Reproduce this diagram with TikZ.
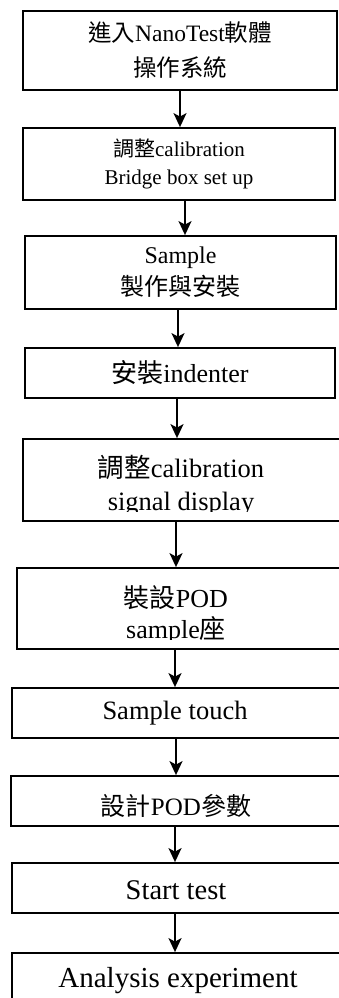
\documentclass[tikz,border=0pt]{standalone}
\usepackage{fontspec}
\setmainfont{Liberation Serif}
\newfontfamily\cjk{Noto Sans CJK TC}
\usetikzlibrary{arrows.meta}

\tikzset{
  stepbox/.style={draw, line width=1.8pt, inner sep=0pt, align=center},
  steptext/.style={inner sep=0pt, align=center},
  flow/.style={line width=1.8pt, -{Stealth[length=14pt,width=13pt,inset=3.5pt]}},
}
\newcommand{\fsz}[2]{\fontsize{#1}{#2}\selectfont}

\begin{document}
\begin{tikzpicture}[x=1pt, y=-1pt]
  \useasboundingbox (0,0) rectangle (339,998);
  \clip (0,0) rectangle (339,998);
  % upper boxes, closed on both sides
  \node[stepbox, minimum width=314pt, minimum height=79pt, font=\fsz{23.5}{35}] (enter) at (180,50.5)
    {{\cjk 進入}NanoTest{\cjk 軟體}\\{\cjk 操作系統}};
  \node[stepbox, minimum width=312pt, minimum height=72pt, font=\fsz{21}{28}] (bridge) at (179,164)
    {{\cjk 調整}calibration\\Bridge box set up};
  \node[stepbox, minimum width=311pt, minimum height=73pt, font=\fsz{24}{32}] (sample) at (180.5,272.5)
    {Sample\\{\cjk 製作與安裝}};
  \node[stepbox, minimum width=310pt, minimum height=50pt, font=\fsz{26}{30}] (indenter) at (180,373)
    {{\cjk 安裝}indenter};
  % lower boxes run off the right edge
  \node[stepbox, minimum width=340pt, minimum height=82pt] (signal) at (193,480) {};
  \begin{scope}
    \clip (signal.north west) rectangle (339,511);
    \node[steptext, font=\fsz{26.5}{33}] (signal-t) at (181,486) {{\cjk 調整}calibration\\signal display};
  \end{scope}
  \node[stepbox, minimum width=346pt, minimum height=81pt] (pod) at (190,608.5) {};
  \begin{scope}
    \clip (pod.north west) rectangle (339,639);
    \node[steptext, font=\fsz{26}{31}] (pod-t) at (176,615) {{\cjk 裝設}POD\\sample{\cjk 座}};
  \end{scope}
  \node[stepbox, minimum width=348pt, minimum height=50pt] (touch) at (186,713) {};
  \node[steptext, font=\fsz{26.5}{30}] (touch-t) at (175,713) {Sample touch};
  \node[stepbox, minimum width=349pt, minimum height=50pt] (param) at (185.5,801) {};
  \node[steptext, font=\fsz{25}{30}] (param-t) at (176,806) {{\cjk 設計}POD{\cjk 參數}};
  \node[stepbox, minimum width=348pt, minimum height=50pt] (start) at (186,888) {};
  \node[steptext, font=\fsz{28.5}{30}] (start-t) at (176,890) {Start test};
  \node[stepbox, minimum width=348pt, minimum height=80pt] (analysis) at (186,993) {};
  \node[steptext, font=\fsz{29}{30}] (analysis-t) at (178,981) {Analysis experiment};
  % arrows
  \foreach \a/\b/\x in {enter/bridge/180, bridge/sample/185, sample/indenter/178,
      indenter/signal/177, signal/pod/176, pod/touch/175, touch/param/176,
      param/start/175, start/analysis/175}
    \draw[flow] (\a.south -| \x,0) -- (\b.north -| \x,0);
\end{tikzpicture}
\end{document}
